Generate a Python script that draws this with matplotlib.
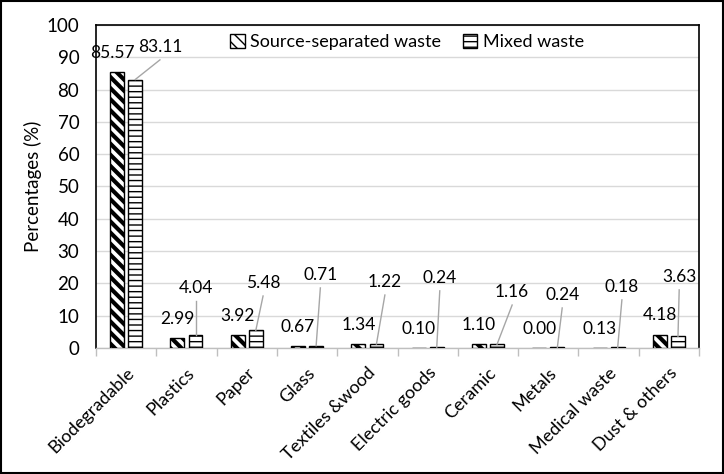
import numpy as np
import matplotlib
matplotlib.use('Agg')
import matplotlib.pyplot as plt
from matplotlib.patches import Rectangle

plt.rcParams['font.family'] = ['Lato', 'DejaVu Sans']

categories = ['Biodegradable', 'Plastics', 'Paper', 'Glass', 'Textiles &wood',
              'Electric goods', 'Ceramic', 'Metals', 'Medical waste', 'Dust & others']
source_sep = [85.57, 2.99, 3.92, 0.67, 1.34, 0.10, 1.10, 0.00, 0.13, 4.18]
mixed = [83.11, 4.04, 5.48, 0.71, 1.22, 0.24, 1.16, 0.24, 0.18, 3.63]

# where the mixed-waste labels sit (x shift from bar, label height)
mixed_dx = [0.41, 0.0, 0.12, 0.07, 0.14, 0.05, 0.25, 0.08, 0.07, 0.02]
mixed_ly = [93.2, 18.6, 20.1, 22.6, 20.4, 21.7, 17.3, 16.4, 18.9, 22.0]

fig = plt.figure(figsize=(7.24, 4.74), dpi=100)
ax = fig.add_axes([0.1326, 0.2658, 0.833, 0.6815])

x = np.arange(len(categories))
w = 0.23
off = 0.15

with plt.rc_context({'hatch.linewidth': 3.0}):
    b1 = ax.bar(x - off, source_sep, w, color='white', edgecolor='black',
                hatch='\\\\\\', linewidth=1, label='Source-separated waste', zorder=3)
with plt.rc_context({'hatch.linewidth': 1.0}):
    b2 = ax.bar(x + off, mixed, w, color='white', edgecolor='black',
                hatch='---', linewidth=1, label='Mixed waste', zorder=3)

for i in range(len(categories)):
    ax.text(x[i] - off + (-0.08 if i == 0 else 0), source_sep[i] + 5.9,
            '%.2f' % source_sep[i], ha='center', va='center', fontsize=12.5)
    lx = x[i] + off + mixed_dx[i]
    ax.text(lx, mixed_ly[i], '%.2f' % mixed[i], ha='center', va='center', fontsize=12.5)
    ax.plot([lx, x[i] + off], [mixed_ly[i] - 4.0, mixed[i]], color='#a6a6a6',
            lw=1, zorder=4)

ax.set_xlim(-0.5, len(categories) - 0.5)
ax.set_ylim(0, 100)
ax.set_yticks(range(0, 101, 10))
ax.yaxis.grid(True, color='#d9d9d9', lw=1)
ax.set_axisbelow(True)
ax.tick_params(axis='y', length=0, labelsize=13.5, pad=12)

ax.set_xticks(x)
ax.set_xticklabels(categories, rotation=45, ha='right', rotation_mode='anchor', fontsize=13)
ax.set_xticks(np.arange(-0.5, len(categories)), minor=True)
ax.tick_params(axis='x', which='major', length=0, pad=12)
ax.tick_params(axis='x', which='minor', length=6, color='#bfbfbf', width=1)

for s in ['top', 'left', 'right']:
    ax.spines[s].set_color('black')
    ax.spines[s].set_linewidth(1.2)
ax.spines['bottom'].set_color('#bfbfbf')
ax.spines['bottom'].set_linewidth(1)

ax.set_ylabel('Percentages (%)', fontsize=13.5, labelpad=3)

ax.legend(loc='center', bbox_to_anchor=(0.516, 0.947), ncol=2, frameon=False,
          fontsize=13, handlelength=0.8, handleheight=0.8, handletextpad=0.3,
          columnspacing=1.2)

fig.patches.append(Rectangle((0.002, 0.002), 0.996, 0.996, transform=fig.transFigure,
                             fill=False, edgecolor='black', lw=1.5))

fig.savefig('out.png', dpi=100)
